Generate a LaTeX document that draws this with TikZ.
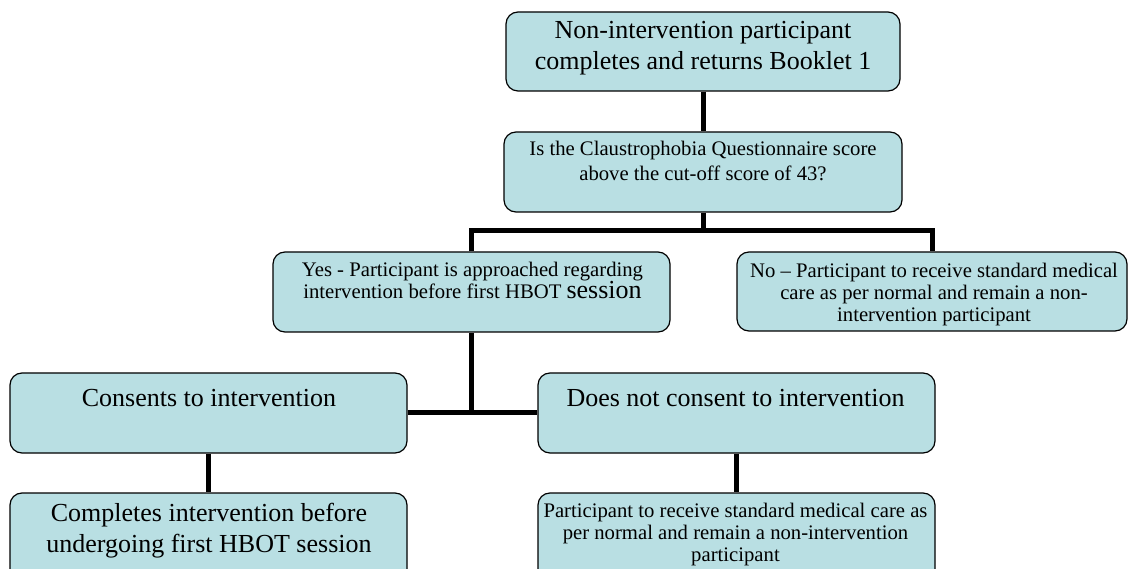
\documentclass[tikz,border=0pt]{standalone}
\usepackage{fontspec}
\setmainfont{Liberation Serif}
\definecolor{boxfill}{RGB}{185,223,227}
\begin{document}
\begin{tikzpicture}[x=1pt,y=-1pt,
  box/.style={draw=black, line width=1.2pt, rounded corners=12pt, fill=boxfill, inner sep=0pt},
  conn/.style={line width=5pt, black, line join=miter},
  txt/.style={anchor=north, inner sep=0pt, align=center},
  big/.style={font={\fontsize{26}{31}\selectfont\lineskiplimit=-30pt}},
  mid/.style={font={\fontsize{20.7}{22}\selectfont\lineskiplimit=-30pt}},
  midwide/.style={font={\fontsize{20.7}{25}\selectfont\lineskiplimit=-30pt}}]
\useasboundingbox (0,0) rectangle (1128,569);
\fill[white] (0,0) rectangle (1128,569);
% boxes
\node[box, minimum width=394pt, minimum height=79pt] (b1) at (703,51.5) {};
\node[box, minimum width=398pt, minimum height=80pt] (b2) at (703,172) {};
\node[box, minimum width=397pt, minimum height=80pt] (b3) at (471.5,292) {};
\node[box, minimum width=390pt, minimum height=79pt] (b4) at (932,291.5) {};
\node[box, minimum width=397pt, minimum height=80pt] (b5) at (208.5,413) {};
\node[box, minimum width=397pt, minimum height=80pt] (b6) at (736.5,413) {};
\node[box, minimum width=397pt, minimum height=90pt] (b7) at (208.5,538) {};
\node[box, minimum width=397pt, minimum height=90pt] (b8) at (736.5,538) {};
% connectors
\coordinate (j1) at (703,231);
\coordinate (j2) at (b3.south |- b5.east);
\draw[conn] (b1.south) -- (b2.north);
\draw[conn] (b2.south) -- (j1);
\draw[conn] (b3.north) |- (j1) -| (b4.north);
\draw[conn] (b3.south) -- (j2);
\draw[conn] (b5.east) -- (b6.west);
\draw[conn] (b5.south) -- (b7.north);
\draw[conn] (b6.south) -- (b8.north);
% texts
\node[txt, big] (t1) at (703,21) {Non-intervention participant\\completes and returns Booklet 1};
\node[txt, midwide] (t2) at (703,140.7) {Is the Claustrophobia Questionnaire score\\above the cut-off score of 43?};
\node[txt, font={\fontsize{20.7}{22.5}\selectfont\lineskiplimit=-30pt}] (t3) at (472.5,261.5) {Yes - Participant is approached regarding\\intervention before first HBOT {\fontsize{26}{22.5}\selectfont session}};
\node[txt, mid] (t4) at (934,262.5) {No -- Participant to receive standard medical\\care as per normal and remain a non-\\intervention participant};
\node[txt, big] (t5) at (209,389) {Consents to intervention};
\node[txt, big] (t6) at (735.5,389) {Does not consent to intervention};
\node[txt, big] (t7) at (209,503) {Completes intervention before\\undergoing first HBOT session};
\node[txt, mid] (t8) at (735.5,502.5) {Participant to receive standard medical care as\\per normal and remain a non-intervention\\participant};
\end{tikzpicture}
\end{document}
